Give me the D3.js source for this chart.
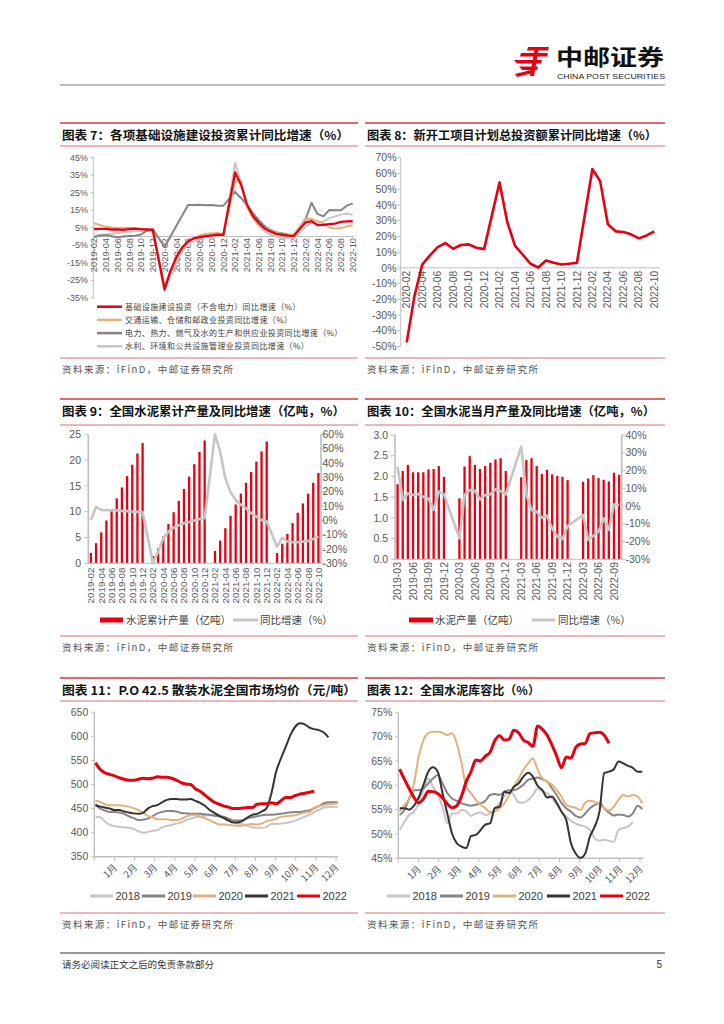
<!DOCTYPE html>
<html>
<head>
<meta charset="utf-8">
<script src="https://cdn.jsdelivr.net/npm/d3@7"></script>
<style>body{margin:0;background:#fff}</style>
</head>
<body>
<div id="page"></div>
<script>
// ---- data ----
// chart 7: cumulative yoy (%), 2019-02 .. 2022-10, January has no value
const infra7 = [4.3,4.4,4.4,4.0,4.1,3.8,4.2,4.5,4.2,4.0,3.8, null, -30.3,-19.7,-11.8,-6.3,-2.7,-1.0,-0.3,0.2,0.7,1.0,0.9, null, 36.6,29.7,18.4,11.8,7.8,4.6,2.9,1.5,1.0,0.5,0.4, null, 8.1,8.8,6.5,6.7,7.1,7.4,8.3,8.6,8.7]
const transport7 = [7.5,6.6,5.6,5.2,5.0,4.9,5.0,4.6,4.5,4.2,3.7, null, -28.0,-20.0,-12.6,-6.6,-3.1,-0.9,0.7,1.5,1.9,2.0,1.4, null, 31.7,31.5,17.0,11.0,7.5,4.9,3.5,2.1,1.5,1.0,0.9, null, 10.2,10.0,8.8,7.3,5.2,4.5,4.9,5.8,6.4]
const utility7 = [-0.5,0.5,0.8,0.2,-0.4,0.0,0.3,0.5,1.2,3.3,4.3, null, -6.0,0.0,6.0,12.0,18.0,18.0,18.2,17.8,18.0,17.5,17.6, null, 25.5,22.0,18.0,13.5,9.4,6.0,3.7,2.5,1.8,1.2,0.9, null, 10.0,19.3,12.9,11.5,15.1,15.0,15.0,17.6,18.9]
const water7 = [0.5,1.0,1.2,1.5,2.0,2.4,2.7,3.0,3.1,3.2,3.3, null, -30.6,-22.0,-14.5,-8.5,-4.5,-2.5,-1.3,-0.5,0.0,0.3,0.2, null, 42.0,31.0,17.5,10.5,6.0,3.0,1.0,0.0,-0.5,-0.8,-1.2, null, 5.6,7.9,7.5,8.5,10.5,11.5,12.5,13.0,12.5]
const ticks7 = [-35,-25,-15,-5,5,15,25,35,45]
const legend7 = ['基础设施建设投资（不含电力）同比增速（%）', '交通运输、仓储和邮政业投资同比增速（%）', '电力、热力、燃气及水的生产和供应业投资同比增速（%）', '水利、环境和公共设施管理业投资同比增速（%）']

// chart 8: new projects planned investment, cumulative yoy (%), 2020-02 .. 2022-10
const newStart8 = [-47.4,-18,2,7.9,13.2,15.7,12.1,14.5,14.9,12.8,11.9, null, 54.3,29,14,8.3,2.6,0.2,4.7,3.2,2.1,2.6,3.2, null, 62.8,55.1,27.7,23.2,22.8,21.3,18.7,20.6,23.2]
const ticks8 = [-50,-40,-30,-20,-10,0,10,20,30,40,50,60,70]

// chart 9: cumulative cement output (100m t) and yoy (%), 2019-02 .. 2022-10
const output9 = [2.0,3.9,6.0,8.3,10.1,12.6,14.7,16.9,19.1,21.3,23.3, null, 1.4,2.9,5.2,7.6,9.9,12.1,14.4,16.8,19.2,21.6,23.8, null, 2.4,4.4,6.8,9.2,11.4,13.5,15.6,17.7,19.7,21.7,23.6, null, 2.0,3.8,5.7,7.8,9.8,11.6,13.5,15.6,17.5]
const yoy9 = [0,9.3,7.2,7.1,7.0,6.9,6.6,6.4,6.0,5.9,5.8, null, -30.0,-21.9,-12.6,-7.9,-5.1,-3.5,-2.1,-1.2,-0.2,0.9,1.4, null, 60.0,47.9,29.3,19.5,14.2,10.7,8.4,4.9,2.6,0.2,-0.9, null, -18.4,-12.1,-14.9,-15.3,-15.3,-14.9,-14.4,-13.0,-11.4]
const left9 = [0,5,10,15,20,25]
const right9 = [-30,-20,-10,0,10,20,30,40,50,60]

// chart 10: monthly cement output (100m t) and yoy (%), 2019-03 .. 2022-10, Jan/Feb empty
const prod10 = [1.81,2.13,2.28,2.10,2.10,2.10,2.17,2.18,2.25,1.99, null,null, 1.47,2.24,2.49,2.28,2.18,2.25,2.33,2.41,2.44,2.13, null,null, 1.98,2.40,2.44,2.25,2.06,2.16,2.05,2.01,1.99,1.91, null,null, 1.87,1.95,2.03,1.96,1.92,1.88,2.09,2.04]
const yoy10 = [22.3,3.5,7.1,6.2,6.8,5.1,4.3,-2.2,8.1,6.6, null,null, -18.2,6.2,9.0,8.6,3.8,6.2,6.6,9.4,8.4,6.6, null,null, 33.4,6.3,-2.2,-3.2,-6.6,-5.4,-12.6,-17.3,-18.6,-11.3, null,null, -5.1,-19.1,-16.7,-14.4,-6.9,-13.5,0.9,0.6]
const left10 = [0,0.5,1,1.5,2,2.5,3]
const right10 = [-30,-20,-10,0,10,20,30,40]

// chart 11: P.O 42.5 bulk cement price (yuan/t), weekly
const price2018 = [433,432,423,416,414,412,411,410,408,403,400,401,404,405,411,414,416,419,421,426,429,432,434,435,436,436,436,432,426,422,419,418,414,411,410,410,412,418,418,419,420,422,425,429,433,437,443,447,452,453,454,454]
const price2019 = [459,450,446,443,443,442,439,434,430,426,427,429,434,440,443,445,445,444,441,440,439,439,439,438,437,435,434,433,429,425,425,426,430,432,434,436,437,437,438,439,441,442,443,443,445,446,451,455,461,463,463,463]
const price2020 = [466,464,459,457,457,457,456,454,451,447,441,435,432,428,428,428,426,426,428,433,436,437,433,430,426,421,417,417,416,415,414,415,417,418,417,419,424,426,429,433,434,435,436,439,442,443,452,455,457,459,460,461]
const price2021 = [457,454,452,450,447,447,444,442,440,439,441,450,455,457,463,468,470,470,469,469,470,466,462,456,447,441,435,430,425,421,421,425,432,437,439,444,451,482,527,554,578,603,620,627,625,618,615,613,608,598]
const price2022 = [545,531,524,521,518,514,511,509,509,511,513,512,513,516,515,515,513,509,504,501,500,491,486,478,470,463,459,455,453,450,450,451,452,452,459,460,460,462,460,466,473,473,477,480,482,484,486]
const ticks11 = [350,400,450,500,550,600,650]

// chart 12: cement inventory ratio (%), weekly
const stock2018 = [50.8,52.5,53.9,54.6,56.3,59.0,61.4,59.7,58.0,55.6,52.2,54.2,54.2,54.9,54.7,53.7,54.2,54.4,53.9,54.2,55.3,56.3,57.7,59.0,58.0,56.5,56.4,57.0,58.0,59.4,58.7,58.4,57.3,56.0,54.6,53.6,52.7,52.1,51.8,51.5,50.8,49.1,48.6,48.8,48.6,48.4,50.8,51.2,51.5,52.5]
const stock2019 = [53.9,54.9,57.3,59.0,59.0,59.4,60.4,61.4,62.1,60.4,58.4,57.3,56.8,56.3,56.0,55.8,56.0,56.3,56.8,58.0,58.2,58.0,58.7,59.0,59.0,59.4,60.1,61.1,61.4,61.6,61.2,60.8,59.4,58.0,56.4,55.3,54.6,53.7,53.4,54.2,55.3,56.0,56.3,55.3,54.4,53.8,54.0,53.9,53.6,54.2,55.8,55.1]
const stock2020 = [54.6,56.0,57.0,60.4,65.9,69.3,70.7,71.0,71.0,70.8,70.3,70.7,68.6,64.5,59.7,58.4,57.0,56.0,55.3,54.5,54.6,55.3,56.3,58.0,59.7,61.4,63.2,64.5,65.5,63.2,61.4,60.8,60.1,59.0,57.7,56.0,55.6,55.4,54.9,56.4,56.8,56.6,56.0,55.3,54.8,55.6,57.0,58.0,57.7,58.0,57.7,56.3]
const stock2021 = [55.3,55.3,55.0,55.8,57.5,60.1,62.8,63.7,62.8,58.4,54.2,50.1,48.1,47.4,47.1,49.6,49.8,50.8,51.9,52.2,55.3,55.6,58.7,58.4,59.7,60.4,61.8,62.6,61.8,59.9,59.0,57.5,57.7,56.4,54.6,52.9,48.1,46.0,45.1,46.0,49.5,51.5,54.6,62.5,62.8,63.3,64.9,64.5,64.0,63.6,62.8,62.8]
const stock2022 = [63.3,61.2,59.3,57.5,56.4,57.2,58.8,58.7,58.3,57.4,56.2,55.4,55.8,57.8,60.8,62.8,65.2,65.0,66.0,66.8,69.2,70.2,69.3,69.5,71.3,70.8,69.3,68.8,68.0,72.2,71.5,70.3,68.3,66.0,63.6,65.8,65.6,67.8,68.5,68.6,70.6,70.8,70.9,70.3,68.6]
const ticks12 = [45,50,55,60,65,70,75]

const monthNames = ['1月','2月','3月','4月','5月','6月','7月','8月','9月','10月','11月','12月']
const years = ['2018','2019','2020','2021','2022']

// ---- setup ----
const RED = '#e60012'
const TAN = '#e2b27a'
const DGRAY = '#858585'
const LGRAY = '#c6c6c6'
const BLACK = '#333333'
const AXIS = '#bfbfbf'
const LABEL = '#595959'
const NUM = 'Arial, "Liberation Sans", sans-serif'
const CJK = '"Noto Sans CJK SC", "Noto Sans", sans-serif'

const svg = d3.select('#page').append('svg').attr('width', 724).attr('height', 1024)

function monthList(y0, m0, y1, m1) {
    const out = []
    let y = y0, m = m0
    while (y < y1 || (y === y1 && m <= m1)) {
        out.push(y + '-' + String(m).padStart(2, '0'))
        m++
        if (m > 12) { m = 1; y++ }
    }
    return out
}

function hline(x0, x1, y, color, w) {
    svg.append('line').attr('x1', x0).attr('x2', x1).attr('y1', y).attr('y2', y)
        .attr('stroke', color).attr('stroke-width', w)
}
function vline(x, y0, y1, color, w) {
    svg.append('line').attr('x1', x).attr('x2', x).attr('y1', y0).attr('y2', y1)
        .attr('stroke', color).attr('stroke-width', w)
}

function panel(x0, x1, top, titleBase, under, bottom, title, titleLen) {
    hline(x0, x1, top, '#d9363e', 1.6)
    svg.append('text').attr('x', x0 + 2).attr('y', titleBase)
        .attr('font-family', CJK).attr('font-weight', 'bold').attr('font-size', 12)
        .attr('fill', '#111').attr('textLength', titleLen).attr('lengthAdjust', 'spacingAndGlyphs')
        .text(title)
    hline(x0, x1, under, '#e36c70', 1)
    hline(x0, x1, bottom, '#e36c70', 1)
    svg.append('text').attr('x', x0 + 2).attr('y', bottom + 15)
        .attr('font-family', CJK).attr('font-size', 9.5).attr('fill', '#555')
        .attr('textLength', 171).attr('lengthAdjust', 'spacing')
        .text('资料来源：iFinD，中邮证券研究所')
}

function yLabels(ticks, scale, x, anchor, fmt, size) {
    svg.append('g').selectAll('text').data(ticks).join('text')
        .attr('x', x).attr('y', d => scale(d)).attr('dy', '0.35em')
        .attr('text-anchor', anchor).attr('font-family', NUM).attr('font-size', size)
        .attr('fill', LABEL).text(fmt)
}
function yTicks(ticks, scale, x, len) {
    svg.append('g').selectAll('line').data(ticks).join('line')
        .attr('x1', x).attr('x2', x + len).attr('y1', d => scale(d)).attr('y2', d => scale(d))
        .attr('stroke', AXIS).attr('stroke-width', 1)
}
function xDateLabels(list, pos, y, size) {
    svg.append('g').selectAll('text').data(list).join('text')
        .attr('transform', d => `translate(${pos(d)},${y}) rotate(-90)`)
        .attr('dy', '0.35em').attr('text-anchor', 'end')
        .attr('font-family', NUM).attr('font-size', size).attr('fill', LABEL).text(d => d)
}
function drawLine(months, values, x, y, color, width) {
    const pts = months.map((m, i) => ({ m: m, v: values[i] })).filter(d => d.v !== null)
    svg.append('path').datum(pts)
        .attr('d', d3.line().x(d => x(d.m)).y(d => y(d.v)))
        .attr('fill', 'none').attr('stroke', color).attr('stroke-width', width)
        .attr('stroke-linejoin', 'round')
}

// ---- header ----
const logo = svg.append('g').attr('fill', RED)
logo.append('path').attr('d', 'M528,47 L549,47 L548,50.5 L527,50.5 Z')
logo.append('path').attr('d', 'M521,53 L548,53 L547,56.5 L520,56.5 Z')
logo.append('path').attr('d', 'M514,60 L542,60 L541,63.5 L517,63.5 Z')
logo.append('path').attr('d', 'M519,66.5 L538,66.5 L537,70 L522,70 Z')
logo.append('path').attr('d', 'M535,47 L539,47 L534,76 L530,76 Z')
logo.append('path').attr('d', 'M515,74 L531,70 L531,73.5 L517,77 Z')
svg.append('text').attr('x', 556).attr('y', 64.5).attr('font-family', CJK).attr('font-weight', 'bold')
    .attr('font-size', 22).attr('fill', '#111').attr('textLength', 108).attr('lengthAdjust', 'spacingAndGlyphs')
    .text('中邮证券')
svg.append('text').attr('x', 557).attr('y', 78.5).attr('font-family', NUM).attr('font-size', 7.4)
    .attr('fill', '#222').attr('textLength', 108).attr('lengthAdjust', 'spacingAndGlyphs')
    .text('CHINA POST SECURITIES')
hline(60, 665, 85, '#555', 0.8)

// ---- panels ----
panel(60, 358, 123, 139.5, 146, 358, '图表 7：各项基础设施建设投资累计同比增速（%）', 287)
panel(365, 665, 123, 139.5, 146, 358, '图表 8：新开工项目计划总投资额累计同比增速（%）', 290)
panel(60, 358, 399, 416, 425, 636, '图表 9：全国水泥累计产量及同比增速（亿吨，%）', 283)
panel(365, 665, 399, 416, 425, 636, '图表 10：全国水泥当月产量及同比增速（亿吨，%）', 288)
panel(60, 358, 678, 694.5, 701, 913, '图表 11：P.O 42.5 散装水泥全国市场均价（元/吨）', 294)
panel(365, 665, 678, 694.5, 701, 913, '图表 12：全国水泥库容比（%）', 173)

// ---- chart 7 ----
const months7 = monthList(2019, 2, 2022, 10)
const x7 = d3.scalePoint().domain(months7).range([94, 352.7])
const y7 = d3.scaleLinear().domain([-35, 45]).range([297.8, 157.7])
vline(93.3, y7(45), y7(-35), AXIS, 1)
yTicks(ticks7, y7, 90.5, 2.8)
hline(93.3, 354, y7(0), AXIS, 1)
yLabels(ticks7, y7, 88, 'end', d => d + '%', 9)
xDateLabels(months7.filter((d, i) => i % 2 === 0), x7, y7(0) + 1.5, 9.3)
drawLine(months7, water7, x7, y7, LGRAY, 2)
drawLine(months7, utility7, x7, y7, DGRAY, 2)
drawLine(months7, transport7, x7, y7, TAN, 2)
drawLine(months7, infra7, x7, y7, RED, 2.3)
const colors7 = [RED, TAN, DGRAY, LGRAY]
legend7.forEach((t, i) => {
    const ly = 306.7 + i * 13.2
    hline(97, 122, ly, colors7[i], 2.5)
    svg.append('text').attr('x', 125).attr('y', ly).attr('dy', '0.35em')
        .attr('font-family', CJK).attr('font-size', 8).attr('letter-spacing', 0.4)
        .attr('fill', '#404040').text(t)
})

// ---- chart 8 ----
const months8 = monthList(2020, 2, 2022, 10)
const x8 = d3.scalePoint().domain(months8).range([406.7, 654.3])
const y8 = d3.scaleLinear().domain([-50, 70]).range([346.5, 157.7])
vline(400.7, y8(70), y8(-50), AXIS, 1)
yTicks(ticks8, y8, 397.5, 3.2)
hline(400.7, 660, y8(0), AXIS, 1)
yLabels(ticks8, y8, 396.5, 'end', d => d + '%', 10.5)
xDateLabels(months8.filter((d, i) => i % 2 === 0), x8, y8(0) + 3, 10.2)
drawLine(months8, newStart8, x8, y8, RED, 2.6)

// ---- chart 9 ----
const months9 = monthList(2019, 2, 2022, 10)
const x9 = d3.scaleBand().domain(months9).range([88.3, 321])
const y9 = d3.scaleLinear().domain([0, 25]).range([563.3, 434.3])
const r9 = d3.scaleLinear().domain([-30, 60]).range([563.3, 434.3])
const c9 = d => x9(d) + x9.bandwidth() / 2
svg.append('g').selectAll('rect').data(months9.map((m, i) => ({ m: m, v: output9[i] })).filter(d => d.v !== null))
    .join('rect').attr('x', d => c9(d.m) - 1.15).attr('width', 2.3)
    .attr('y', d => y9(d.v)).attr('height', d => y9(0) - y9(d.v)).attr('fill', RED)
vline(88.3, 434.3, 563.3, AXIS, 1.6)
vline(321, 434.3, 563.3, AXIS, 1.6)
hline(88.3, 321, 563.3, AXIS, 1)
yTicks(left9, y9, 84.5, 3.8)
yTicks(right9, r9, 321, 3.8)
yLabels(left9, y9, 81, 'end', d => d, 10.5)
yLabels(right9, r9, 322.5, 'start', d => d + '%', 10.5)
xDateLabels(months9.filter((d, i) => i % 2 === 0), c9, 567.5, 9.8)
drawLine(months9, yoy9, c9, r9, LGRAY, 2.6)
svg.append('rect').attr('x', 100).attr('y', 617.5).attr('width', 23).attr('height', 5).attr('fill', RED)
svg.append('text').attr('x', 126).attr('y', 620).attr('dy', '0.35em').attr('font-family', CJK)
    .attr('font-size', 10.5).attr('fill', '#404040').text('水泥累计产量（亿吨）')
hline(233, 258, 620, LGRAY, 3)
svg.append('text').attr('x', 260).attr('y', 620).attr('dy', '0.35em').attr('font-family', CJK)
    .attr('font-size', 10.5).attr('fill', '#404040').text('同比增速（%）')

// ---- chart 10 ----
const months10 = monthList(2019, 3, 2022, 10)
const x10 = d3.scaleBand().domain(months10).range([395, 621.7])
const y10 = d3.scaleLinear().domain([0, 3]).range([559.3, 435])
const r10 = d3.scaleLinear().domain([-30, 40]).range([559.3, 435])
const c10 = d => x10(d) + x10.bandwidth() / 2
svg.append('g').selectAll('rect').data(months10.map((m, i) => ({ m: m, v: prod10[i] })).filter(d => d.v !== null))
    .join('rect').attr('x', d => c10(d.m) - 1.15).attr('width', 2.3)
    .attr('y', d => y10(d.v)).attr('height', d => y10(0) - y10(d.v)).attr('fill', RED)
vline(395, 435, 559.3, AXIS, 1.6)
vline(621.7, 435, 559.3, AXIS, 1.6)
hline(395, 621.7, 559.3, AXIS, 1)
yTicks(left10, y10, 391.2, 3.8)
yTicks(right10, r10, 621.7, 3.8)
yLabels(left10, y10, 388, 'end', d => d.toFixed(1), 10.5)
yLabels(right10, r10, 625.5, 'start', d => d + '%', 10.5)
xDateLabels(months10.filter((d, i) => i % 3 === 0), c10, 562, 10.5)
drawLine(months10, yoy10, c10, r10, LGRAY, 2.6)
svg.append('rect').attr('x', 409).attr('y', 617.5).attr('width', 24).attr('height', 5).attr('fill', RED)
svg.append('text').attr('x', 435).attr('y', 620).attr('dy', '0.35em').attr('font-family', CJK)
    .attr('font-size', 10.5).attr('fill', '#404040').text('水泥产量（亿吨）')
hline(532, 555, 620, LGRAY, 3)
svg.append('text').attr('x', 558).attr('y', 620).attr('dy', '0.35em').attr('font-family', CJK)
    .attr('font-size', 10.5).attr('fill', '#404040').text('同比增速（%）')

// ---- weekly charts (11, 12) ----
const yearColors = [LGRAY, DGRAY, TAN, BLACK, RED]
const yearWidths = [2, 2, 2, 2, 3]

function weekly(series, xw, xm, y, yTickList, yFmt, yAxisX, plotRight, bottom, top, legendX) {
    vline(yAxisX, top, bottom, AXIS, 1.4)
    hline(yAxisX, plotRight, bottom, AXIS, 1.4)
    yTicks(yTickList, y, yAxisX - 3, 3)
    yLabels(yTickList, y, yAxisX - 6, 'end', yFmt, 10.5)
    svg.append('g').selectAll('line').data(d3.range(13)).join('line')
        .attr('x1', d => xm(d)).attr('x2', d => xm(d)).attr('y1', bottom).attr('y2', bottom + 4)
        .attr('stroke', AXIS).attr('stroke-width', 1)
    svg.append('g').selectAll('text').data(monthNames).join('text')
        .attr('transform', (d, i) => `translate(${xm(i + 1) + 1},${bottom + 9}) rotate(-45)`)
        .attr('dy', '0.35em').attr('text-anchor', 'end')
        .attr('font-family', CJK).attr('font-size', 9.5).attr('fill', LABEL).text(d => d)
    series.forEach((s, k) => {
        svg.append('path').datum(s)
            .attr('d', d3.line().x((d, i) => xw(i)).y(d => y(d)).curve(d3.curveMonotoneX))
            .attr('fill', 'none').attr('stroke', yearColors[k]).attr('stroke-width', yearWidths[k])
            .attr('stroke-linejoin', 'round')
    })
    years.forEach((t, k) => {
        const lx = legendX[k]
        hline(lx, lx + 23, 896, yearColors[k], 3)
        svg.append('text').attr('x', lx + 25.5).attr('y', 896).attr('dy', '0.35em')
            .attr('font-family', NUM).attr('font-size', 11).attr('fill', '#404040').text(t)
    })
}

const xw11 = d3.scaleLinear().domain([0, 51]).range([95.5, 338])
const xm11 = d3.scaleLinear().domain([0, 12]).range([94.3, 336])
const y11 = d3.scaleLinear().domain([350, 650]).range([856.7, 712.3])
weekly([price2018, price2019, price2020, price2021, price2022], xw11, xm11, y11, ticks11, d => d,
    94.3, 338, 856.7, 712.3, [90, 142, 193, 245, 297])

const xw12 = d3.scaleLinear().domain([0, 51]).range([399.7, 642.3])
const xm12 = d3.scaleLinear().domain([0, 12]).range([398.3, 640])
const y12 = d3.scaleLinear().domain([45, 75]).range([858.3, 712.3])
weekly([stock2018, stock2019, stock2020, stock2021, stock2022], xw12, xm12, y12, ticks12, d => d + '%',
    398.3, 643, 858.3, 712.3, [387, 440, 493, 547, 600])

// ---- footer ----
hline(60, 665, 953, '#333', 1)
svg.append('text').attr('x', 62).attr('y', 968).attr('font-family', CJK).attr('font-size', 9.5)
    .attr('fill', '#333').text('请务必阅读正文之后的免责条款部分')
svg.append('text').attr('x', 662).attr('y', 968).attr('text-anchor', 'end').attr('font-family', NUM)
    .attr('font-size', 10).attr('fill', '#333').text('5')
</script>
</body>
</html>
